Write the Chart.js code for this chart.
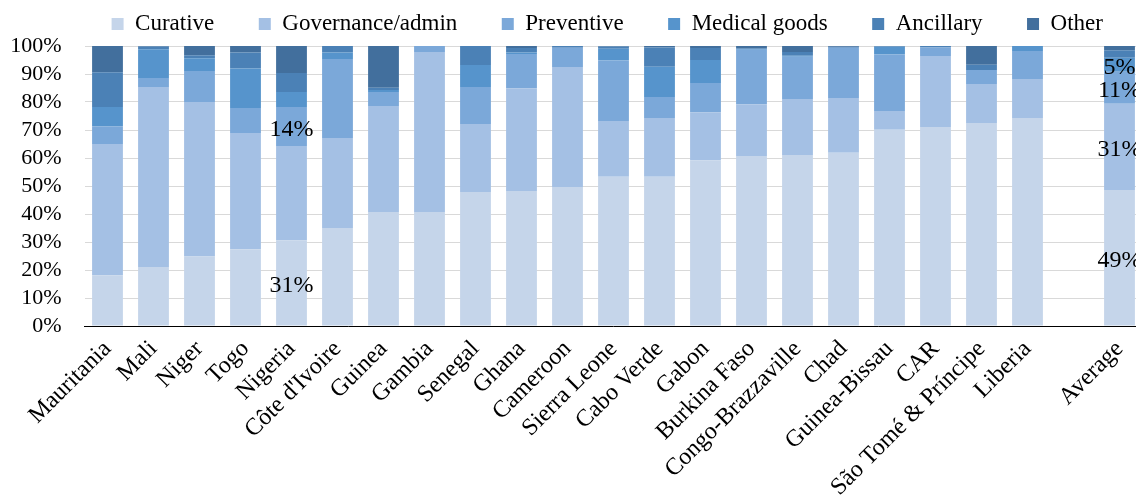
<!DOCTYPE html>
<html lang="en">
<head>
    <meta charset="UTF-8">
    <title>Health spending by function</title>
    <script src="https://cdn.jsdelivr.net/npm/chart.js"></script>
    <style>
        html, body { margin: 0; padding: 0; overflow: hidden; background: #fff; }
        #chart { display: block; }
    </style>
</head>
<body>
    <canvas id="chart" width="1150" height="502"></canvas>
    <script>
        // countries, with an empty slot before the average bar
        const countries = ['Mauritania', 'Mali', 'Niger', 'Togo', 'Nigeria', "Côte d'Ivoire", 'Guinea', 'Gambia',
            'Senegal', 'Ghana', 'Cameroon', 'Sierra Leone', 'Cabo Verde', 'Gabon', 'Burkina Faso',
            'Congo-Brazzaville', 'Chad', 'Guinea-Bissau', 'CAR', 'São Tomé & Príncipe', 'Liberia', '', 'Average'];

        // shares in %
        const curative   = [18.1, 21.1, 24.8, 27.4, 30.6, 35.0, 40.7, 40.7, 47.9, 48.2, 49.6, 53.3, 53.3, 59.2, 60.7, 61.1, 61.9, 70.1, 71.1, 72.5, 74.3, null, 48.6];
        const governance = [46.9, 64.3, 55.2, 41.5, 33.7, 32.1, 37.9, 57.2, 24.2, 36.7, 42.9, 19.9, 21.0, 17.1, 18.5, 20.0, 19.5, 6.7, 25.3, 13.9, 13.9, null, 30.8];
        const preventive = [6.3, 3.2, 11.1, 9.0, 13.9, 28.3, 5.0, 2.1, 13.3, 12.2, 6.9, 21.6, 7.5, 10.5, 19.5, 15.1, 18.0, 20.2, 3.1, 5.0, 10.0, null, 11.4];
        const medical    = [6.9, 10.2, 4.5, 14.1, 5.4, 2.3, 0.7, 0, 7.8, 0.6, 0, 4.2, 10.8, 8.2, 0.2, 0.3, 0, 2.8, 0, 0, 1.8, null, 5.0];
        const ancillary  = [12.4, 1.0, 1.1, 5.7, 6.8, 2.3, 0.8, 0, 6.8, 1.6, 0.6, 0.8, 6.9, 4.3, 0.3, 1.4, 0.3, 0, 0.5, 1.9, 0, null, 2.7];
        const other      = [9.4, 0.2, 3.3, 2.3, 9.6, 0, 14.9, 0, 0, 0.7, 0, 0.2, 0.5, 0.7, 0.8, 2.1, 0.3, 0.2, 0, 6.7, 0, null, 1.5];

        const seriesNames = ['Curative', 'Governance/admin', 'Preventive', 'Medical goods', 'Ancillary', 'Other'];
        const seriesColors = ['#c5d5ea', '#a4c0e4', '#7ba8d9', '#5694cc', '#4b81b6', '#426f9d'];
        const seriesData = [curative, governance, preventive, medical, ancillary, other];

        // which segments carry a value label: [series index, country]
        const labelledSegments = [[0, 'Nigeria'], [2, 'Nigeria'], [0, 'Average'], [1, 'Average'], [2, 'Average'], [3, 'Average']];

        const serif = "'Liberation Serif', 'Times New Roman', serif";
        Chart.defaults.font.family = serif;
        Chart.defaults.color = '#000';

        // legend: wide gaps between items but a short legend box
        const legendSpacing = {
            id: 'legendSpacing',
            afterInit(chart) {
                const lg = chart.legend;
                if (!lg || lg._spaced) return;
                lg._spaced = true;
                const fit = lg.fit;
                lg.fit = function () {
                    fit.call(this);
                    this.height = 46;
                };
                const drawItems = lg._draw;
                lg._draw = function () {
                    const ctx = chart.ctx;
                    ctx.save();
                    ctx.translate(36, -32);
                    drawItems.call(this);
                    ctx.restore();
                };
            }
        };

        const segmentLabels = {
            id: 'segmentLabels',
            afterDatasetsDraw(chart) {
                const ctx = chart.ctx;
                ctx.save();
                ctx.font = '24px ' + serif;
                ctx.fillStyle = '#000';
                ctx.textAlign = 'center';
                ctx.textBaseline = 'middle';
                labelledSegments.forEach(([s, name]) => {
                    const i = countries.indexOf(name);
                    const el = chart.getDatasetMeta(s).data[i];
                    const v = seriesData[s][i];
                    ctx.fillText(Math.round(v) + '%', el.x, (el.y + el.base) / 2 + 3);
                });
                ctx.restore();
            }
        };

        new Chart(document.getElementById('chart').getContext('2d'), {
            type: 'bar',
            data: {
                labels: countries,
                datasets: seriesData.map((d, k) => ({
                    label: seriesNames[k],
                    data: d,
                    backgroundColor: seriesColors[k],
                    borderWidth: 0,
                    categoryPercentage: 1,
                    barPercentage: 0.67
                }))
            },
            options: {
                responsive: false,
                animation: false,
                layout: { padding: { left: 0, right: 7.5, top: 0, bottom: 0 } },
                plugins: {
                    legend: {
                        position: 'top',
                        labels: {
                            boxWidth: 12,
                            boxHeight: 12,
                            padding: 44.5,
                            color: '#000',
                            font: { family: serif, size: 23 }
                        }
                    },
                    tooltip: { enabled: false }
                },
                scales: {
                    x: {
                        stacked: true,
                        grid: { display: false, drawTicks: false },
                        border: { display: true, color: '#000', width: 1 },
                        ticks: {
                            autoSkip: false,
                            minRotation: 45,
                            maxRotation: 45,
                            padding: 9,
                            color: '#000',
                            font: { family: serif, size: 24 }
                        },
                        afterFit(scale) { scale.height = 176; }
                    },
                    y: {
                        stacked: true,
                        min: 0,
                        max: 100,
                        grid: { color: '#d9d9d9', drawTicks: false },
                        border: { display: false },
                        ticks: {
                            autoSkip: false,
                            stepSize: 10,
                            padding: 23,
                            color: '#000',
                            font: { family: serif, size: 22 },
                            callback: v => v + '%'
                        },
                        afterFit(scale) { scale.width = 84.5; }
                    }
                }
            },
            plugins: [legendSpacing, segmentLabels]
        });
    </script>
</body>
</html>
